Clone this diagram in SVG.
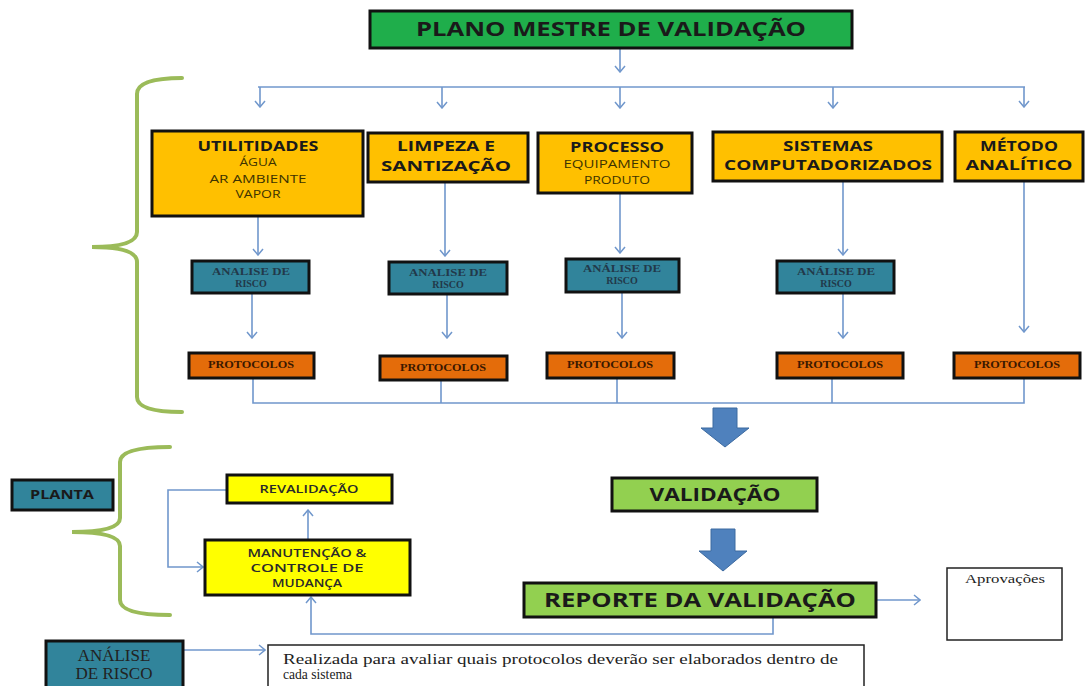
<svg xmlns="http://www.w3.org/2000/svg" width="1086" height="686" viewBox="0 0 1086 686">
<defs>
<marker id="arr" viewBox="0 0 8 12" refX="7" refY="6" markerWidth="8" markerHeight="12" markerUnits="userSpaceOnUse" orient="auto">
<path d="M1,1 L7,6 L1,11" fill="none" stroke="#7097cc" stroke-width="1.5"/>
</marker>
<style>
.bx{stroke:#111;stroke-width:3}
.or{fill:#ffc000}
.tl{fill:#31849b}
.pr{fill:#e46c0a}
.ye{fill:#ffff00}
.g1{fill:#1fae4b}
.g2{fill:#92d050}
.wh{fill:#fff;stroke:#222;stroke-width:1.5}
.sb{font-family:"Open Sans","DejaVu Sans",sans-serif;font-weight:bold;fill:#1a1a1a;text-anchor:middle}
.ss{font-family:"Open Sans","DejaVu Sans",sans-serif;fill:#3d3300;text-anchor:middle;font-size:11px}
.sm{font-family:"Open Sans","DejaVu Sans",sans-serif;fill:#2a2a2a;text-anchor:middle;font-size:11px;font-weight:600}
.sf{font-family:"Liberation Serif","Times New Roman",serif;font-weight:bold;text-anchor:middle;font-size:10px}
.sr{font-family:"Liberation Serif","Times New Roman",serif;fill:#222}
.cn{fill:none;stroke:#7097cc;stroke-width:1.6}
.br{fill:none;stroke:#9bbb59;stroke-width:4;stroke-linecap:round}
.ba{fill:#4f81bd;stroke:#3c6aa0;stroke-width:1}
</style>
</defs>

<g id="brackets">
<path class="br" d="M182,78 Q137,78 137,94 L137,232 Q137,247 92,247 Q137,247 137,262 L137,397 Q137,412 182,412"/>
<path class="br" d="M170,447 Q120,447 120,462 L120,518 Q120,532 72,532 Q120,532 120,546 L120,600 Q120,615 170,615"/>
</g>

<g id="connectors">
<path class="cn" d="M620,48 V72" marker-end="url(#arr)"/>
<path class="cn" d="M258,87 H1025"/>
<path class="cn" d="M260,87 V107" marker-end="url(#arr)"/>
<path class="cn" d="M442,87 V108" marker-end="url(#arr)"/>
<path class="cn" d="M620,87 V108" marker-end="url(#arr)"/>
<path class="cn" d="M833,87 V108" marker-end="url(#arr)"/>
<path class="cn" d="M1024,87 V107" marker-end="url(#arr)"/>
<path class="cn" d="M258,216 V255" marker-end="url(#arr)"/>
<path class="cn" d="M445,182 V256" marker-end="url(#arr)"/>
<path class="cn" d="M620,193 V253" marker-end="url(#arr)"/>
<path class="cn" d="M843,181 V255" marker-end="url(#arr)"/>
<path class="cn" d="M1024,181 V332" marker-end="url(#arr)"/>
<path class="cn" d="M252,293 V338" marker-end="url(#arr)"/>
<path class="cn" d="M447,294 V338" marker-end="url(#arr)"/>
<path class="cn" d="M622,292 V338" marker-end="url(#arr)"/>
<path class="cn" d="M843,293 V338" marker-end="url(#arr)"/>
<path class="cn" d="M253,378 V403 H1024 V378 M441,380 V403 M617,378 V403 M832,378 V403"/>
<path class="cn" d="M876,600 H920" marker-end="url(#arr)"/>
<path class="cn" d="M773,617 V634 H311 V597" marker-end="url(#arr)"/>
<path class="cn" d="M227,490 H168 V567 H203" marker-end="url(#arr)"/>
<path class="cn" d="M308,540 V510" marker-end="url(#arr)"/>
<path class="cn" d="M183,650 H265" marker-end="url(#arr)"/>
<path class="ba" d="M713,408 H737 V428 H749 L725,447 L701,428 H713 Z"/>
<path class="ba" d="M711,529 H735 V551 H747 L723,571 L699,551 H711 Z"/>
</g>

<g id="n-plano">
<rect class="bx g1" x="370" y="11" width="482" height="37"/>
<text class="sb" x="611" y="36" font-size="19" textLength="390" lengthAdjust="spacingAndGlyphs">PLANO MESTRE DE VALIDAÇÃO</text>
</g>

<g id="n-utilidades">
<rect class="bx or" x="152" y="131" width="211" height="85"/>
<text class="sb" x="258" y="151" font-size="14" textLength="121" lengthAdjust="spacingAndGlyphs">UTILITIDADES</text>
<text class="ss" x="258" y="166" textLength="37" lengthAdjust="spacingAndGlyphs">ÁGUA</text>
<text class="ss" x="258" y="183" font-size="12" textLength="97" lengthAdjust="spacingAndGlyphs">AR AMBIENTE</text>
<text class="ss" x="258" y="198" textLength="45" lengthAdjust="spacingAndGlyphs">VAPOR</text>
</g>

<g id="n-limpeza">
<rect class="bx or" x="368" y="133" width="160" height="49"/>
<text class="sb" x="446" y="151" font-size="14" textLength="98" lengthAdjust="spacingAndGlyphs">LIMPEZA E</text>
<text class="sb" x="446" y="171" font-size="14" textLength="130" lengthAdjust="spacingAndGlyphs">SANTIZAÇÃO</text>
</g>

<g id="n-processo">
<rect class="bx or" x="538" y="133" width="154" height="60"/>
<text class="sb" x="617" y="152" font-size="14" textLength="94" lengthAdjust="spacingAndGlyphs">PROCESSO</text>
<text class="ss" x="617" y="168" textLength="107" lengthAdjust="spacingAndGlyphs">EQUIPAMENTO</text>
<text class="ss" x="617" y="184" textLength="66" lengthAdjust="spacingAndGlyphs">PRODUTO</text>
</g>

<g id="n-sistemas">
<rect class="bx or" x="713" y="132" width="229" height="49"/>
<text class="sb" x="828" y="151" font-size="14" textLength="90" lengthAdjust="spacingAndGlyphs">SISTEMAS</text>
<text class="sb" x="828" y="170" font-size="14" textLength="208" lengthAdjust="spacingAndGlyphs">COMPUTADORIZADOS</text>
</g>

<g id="n-metodo">
<rect class="bx or" x="955" y="132" width="128" height="49"/>
<text class="sb" x="1019" y="151" font-size="14" textLength="78" lengthAdjust="spacingAndGlyphs">MÉTODO</text>
<text class="sb" x="1019" y="170" font-size="14" textLength="107" lengthAdjust="spacingAndGlyphs">ANALÍTICO</text>
</g>

<g id="n-analise1">
<rect class="bx tl" x="192" y="261" width="117" height="32"/>
<text class="sf" x="251" y="275" fill="#22394a" textLength="78" lengthAdjust="spacingAndGlyphs">ANALISE DE</text>
<text class="sf" x="251" y="287" fill="#22394a">RISCO</text>
</g>
<g id="n-analise2">
<rect class="bx tl" x="389" y="262" width="118" height="32"/>
<text class="sf" x="448" y="276" fill="#22394a" textLength="78" lengthAdjust="spacingAndGlyphs">ANALISE DE</text>
<text class="sf" x="448" y="288" fill="#22394a">RISCO</text>
</g>
<g id="n-analise3">
<rect class="bx tl" x="566" y="259" width="113" height="33"/>
<text class="sf" x="622" y="272" fill="#22394a" textLength="78" lengthAdjust="spacingAndGlyphs">ANÁLISE DE</text>
<text class="sf" x="622" y="284" fill="#22394a">RISCO</text>
</g>
<g id="n-analise4">
<rect class="bx tl" x="777" y="261" width="117" height="32"/>
<text class="sf" x="836" y="275" fill="#22394a" textLength="78" lengthAdjust="spacingAndGlyphs">ANÁLISE DE</text>
<text class="sf" x="836" y="287" fill="#22394a">RISCO</text>
</g>

<g id="n-protocolos1">
<rect class="bx pr" x="189" y="353" width="125" height="25"/>
<text class="sf" x="251" y="368" fill="#3a1800" textLength="86" lengthAdjust="spacingAndGlyphs">PROTOCOLOS</text>
</g>
<g id="n-protocolos2">
<rect class="bx pr" x="380" y="356" width="127" height="24"/>
<text class="sf" x="443" y="371" fill="#3a1800" textLength="86" lengthAdjust="spacingAndGlyphs">PROTOCOLOS</text>
</g>
<g id="n-protocolos3">
<rect class="bx pr" x="547" y="353" width="127" height="25"/>
<text class="sf" x="610" y="368" fill="#3a1800" textLength="86" lengthAdjust="spacingAndGlyphs">PROTOCOLOS</text>
</g>
<g id="n-protocolos4">
<rect class="bx pr" x="777" y="353" width="126" height="25"/>
<text class="sf" x="840" y="368" fill="#3a1800" textLength="86" lengthAdjust="spacingAndGlyphs">PROTOCOLOS</text>
</g>
<g id="n-protocolos5">
<rect class="bx pr" x="954" y="353" width="126" height="25"/>
<text class="sf" x="1017" y="368" fill="#3a1800" textLength="86" lengthAdjust="spacingAndGlyphs">PROTOCOLOS</text>
</g>

<g id="n-validacao">
<rect class="bx g2" x="612" y="478" width="205" height="33"/>
<text class="sb" x="715" y="501" font-size="17" textLength="131" lengthAdjust="spacingAndGlyphs">VALIDAÇÃO</text>
</g>

<g id="n-reporte">
<rect class="bx g2" x="524" y="583" width="352" height="34"/>
<text class="sb" x="700" y="607" font-size="20" textLength="312" lengthAdjust="spacingAndGlyphs">REPORTE DA VALIDAÇÃO</text>
</g>

<g id="n-aprovacoes">
<rect class="wh" x="947" y="568" width="115" height="72"/>
<text class="sr" x="1005" y="583" font-size="13" text-anchor="middle" textLength="80" lengthAdjust="spacingAndGlyphs">Aprovações</text>
</g>

<g id="n-planta">
<rect class="bx tl" x="12" y="480" width="101" height="30"/>
<text class="sb" x="62" y="499" font-size="12" textLength="64" lengthAdjust="spacingAndGlyphs">PLANTA</text>
</g>

<g id="n-revalidacao">
<rect class="bx ye" x="227" y="475" width="165" height="28"/>
<text class="sm" x="309" y="493" textLength="99" lengthAdjust="spacingAndGlyphs">REVALIDAÇÃO</text>
</g>

<g id="n-manutencao">
<rect class="bx ye" x="205" y="540" width="205" height="55"/>
<text class="sm" x="307" y="557" textLength="119" lengthAdjust="spacingAndGlyphs">MANUTENÇÃO &amp;</text>
<text class="sm" x="307" y="572" textLength="113" lengthAdjust="spacingAndGlyphs">CONTROLE DE</text>
<text class="sm" x="307" y="587" textLength="70" lengthAdjust="spacingAndGlyphs">MUDANÇA</text>
</g>

<g id="n-analise-risco">
<rect class="bx tl" x="46" y="641" width="137" height="60"/>
<text class="sr" x="114" y="661" font-size="17" text-anchor="middle" fill="#1b1b1b">ANÁLISE</text>
<text class="sr" x="114" y="679" font-size="17" text-anchor="middle" fill="#1b1b1b">DE RISCO</text>
</g>

<g id="n-descricao">
<rect class="wh" x="268" y="645" width="596" height="60"/>
<text class="sr" x="283" y="664" font-size="15" textLength="555" lengthAdjust="spacingAndGlyphs">Realizada para avaliar quais protocolos deverão ser elaborados dentro de</text>
<text class="sr" x="283" y="679" font-size="15" textLength="69" lengthAdjust="spacingAndGlyphs">cada sistema</text>
</g>
</svg>
